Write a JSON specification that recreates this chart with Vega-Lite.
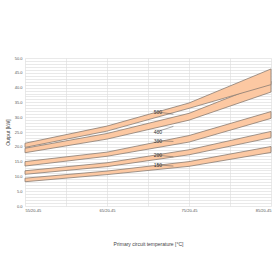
{
  "$schema": "https://vega.github.io/schema/vega-lite/v6.json",
  "autosize": "none",
  "width": 246,
  "height": 148,
  "padding": {"left": 25, "top": 58, "right": 9, "bottom": 74},
  "background": "white",
  "config": {"view": {"stroke": null}, "font": "Liberation Sans"},
  "datasets": {
    "bands": [
      {"band": "150", "t": 55, "lo": 8.2, "hi": 9.4},
      {"band": "150", "t": 65, "lo": 10.6, "hi": 11.8},
      {"band": "150", "t": 75, "lo": 13.4, "hi": 15.0},
      {"band": "150", "t": 85, "lo": 18.1, "hi": 20.1},
      {"band": "200", "t": 55, "lo": 10.7, "hi": 11.9},
      {"band": "200", "t": 65, "lo": 13.3, "hi": 14.6},
      {"band": "200", "t": 75, "lo": 17.3, "hi": 19.0},
      {"band": "200", "t": 85, "lo": 23.1, "hi": 25.2},
      {"band": "300", "t": 55, "lo": 13.5, "hi": 15.0},
      {"band": "300", "t": 65, "lo": 16.8, "hi": 18.2},
      {"band": "300", "t": 75, "lo": 21.6, "hi": 23.8},
      {"band": "300", "t": 85, "lo": 29.6, "hi": 31.9},
      {"band": "400", "t": 55, "lo": 18.0, "hi": 19.5},
      {"band": "400", "t": 65, "lo": 22.6, "hi": 24.5},
      {"band": "400", "t": 75, "lo": 29.0, "hi": 31.3},
      {"band": "400", "t": 85, "lo": 38.5, "hi": 42.2},
      {"band": "500", "t": 55, "lo": 19.8, "hi": 21.2},
      {"band": "500", "t": 65, "lo": 25.3, "hi": 27.0},
      {"band": "500", "t": 75, "lo": 33.0, "hi": 34.8},
      {"band": "500", "t": 85, "lo": 41.0, "hi": 46.3}
    ],
    "labels": [
      {"band": "500", "t": 71.1, "hi": 31.8, "t2": 73.1, "lo": 31.0},
      {"band": "400", "t": 71.1, "hi": 25.1, "t2": 73.1, "lo": 26.9},
      {"band": "300", "t": 71.1, "hi": 22.1, "t2": 73.1, "lo": 21.8},
      {"band": "200", "t": 71.1, "hi": 17.2, "t2": 73.1, "lo": 16.6},
      {"band": "150", "t": 71.1, "hi": 13.9, "t2": 73.1, "lo": 13.5}
    ]
  },
  "encoding": {
    "x": {
      "field": "t", "type": "quantitative",
      "scale": {"domain": [55, 85], "nice": false, "zero": false},
      "axis": {
        "values": [55, 60, 65, 70, 75, 80, 85],
        "labelExpr": "datum.value % 10 == 5 ? datum.value + '/20-45' : ''",
        "labelOverlap": false,
        "title": "Primary circuit temperature [°C]",
        "titleFontSize": 5, "titleFontWeight": "normal", "titleColor": "#444", "titlePadding": 29,
        "labelFontSize": 4, "labelColor": "#555", "labelPadding": 2,
        "ticks": false, "domain": false,
        "gridColor": "#dcdcdc", "gridWidth": 0.6
      }
    },
    "y": {
      "field": "hi", "type": "quantitative",
      "scale": {"domain": [0, 50], "nice": false},
      "axis": {
        "values": [0,1,2,3,4,5,6,7,8,9,10,11,12,13,14,15,16,17,18,19,20,21,22,23,24,25,26,27,28,29,30,31,32,33,34,35,36,37,38,39,40,41,42,43,44,45,46,47,48,49,50],
        "labelExpr": "datum.value % 5 == 0 ? format(datum.value, '.1f') : ''",
        "labelOverlap": false,
        "title": "Output [kW]",
        "titleFontSize": 5, "titleFontWeight": "normal", "titleColor": "#444", "titlePadding": 4,
        "labelFontSize": 4, "labelColor": "#555", "labelPadding": 3,
        "ticks": false, "domain": false,
        "gridColor": "#dadada",
        "gridWidth": 0.6
      }
    }
  },
  "layer": [
    {
      "data": {"name": "bands"},
      "mark": {"type": "area", "fill": "#fcc8a2", "fillOpacity": 1, "stroke": "#8a7c72", "strokeWidth": 0.8},
      "encoding": {
        "y2": {"field": "lo"},
        "detail": {"field": "band"}
      }
    },
    {
      "data": {"name": "labels"},
      "mark": {"type": "rule", "stroke": "#555", "strokeWidth": 0.5},
      "encoding": {
        "x2": {"field": "t2"},
        "y2": {"field": "lo"}
      }
    },
    {
      "data": {"name": "labels"},
      "mark": {"type": "text", "fontSize": 5, "color": "#333", "align": "right", "baseline": "middle", "dx": 5},
      "encoding": {
        "text": {"field": "band"}
      }
    }
  ]
}
